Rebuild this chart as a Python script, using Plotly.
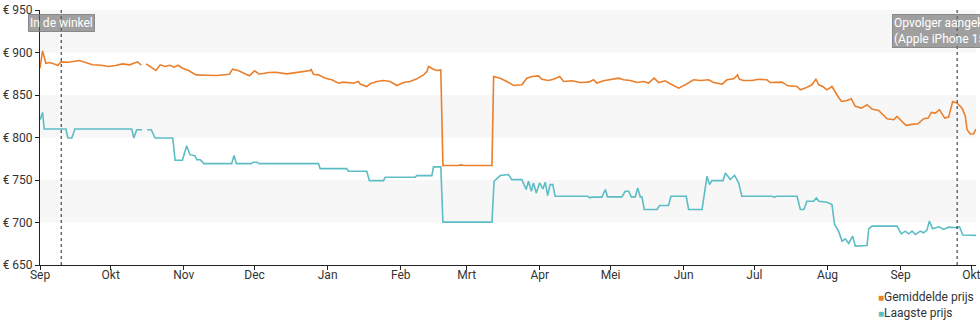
import pandas as pd
import plotly.graph_objects as go

# Day offsets are counted from the first day of the price history
START = pd.Timestamp("2022-09-01")

avg_days = [0, 1.1, 2.5, 4, 6, 7.5, 8.9, 12, 16.7, 19, 22.3, 26, 29, 32, 35, 38, 41.4, 43,
            44,
            45, 47, 49.2, 51, 53, 55, 57, 58.5, 60.5, 63, 66.2, 70, 75, 80.3, 81.7, 84, 88.8,
            91, 93, 97, 100, 104.7, 108.8, 111.7, 114.6, 114.9, 116, 118.1, 121, 123.8,
            126.6, 128.7, 130.8, 133, 135.1, 135.8, 138.6, 140, 142.9, 145.7, 148.5, 151.3,
            154.2, 157, 159.8, 162.7, 164.1, 164.8, 166.9, 168.3, 170, 170.9, 177.5, 178.5,
            180, 191.7, 192.4, 195.2, 198, 200.9, 204.4, 206.5, 208.6, 211.5, 212.9, 215.7,
            217.8, 220.4, 222.1, 225.6, 229.1, 232.7, 234.8, 236.2, 239, 241.9, 245.4, 247.5,
            250.4, 253.2, 256, 258.1, 260.5, 262.4, 265.2, 267.3, 270.9, 273.7, 277.2, 280.1,
            283.6, 285.7, 289.3, 291.4, 294.2, 295.9, 296.6, 298.4, 301.9, 304.8, 308.3,
            309.7, 314.7, 317.2, 321.1, 322.5, 324.6, 327.4, 329.1, 330.3, 332, 333.8, 335.9,
            338, 339.9, 342.3, 344.1, 345.8, 348.4, 350.8, 352.9, 355.7, 359.3, 362.1, 363.5,
            364.9, 367.3, 369.9, 372.4, 374.8, 376.7, 378.1, 379.8, 381.5, 383.7, 385.4,
            387.1, 389, 391.1, 392.5, 393.2, 394.6, 396, 397]
avg_price = [881.5, 901.9, 887.4, 888.2, 886.6, 884.7, 889.0, 888.6, 890.5, 888.2, 885.5,
             885.0, 883.5, 884.7, 886.6, 885.5, 889.0, 885.0,
             None,
             886.6, 882.7, 878.8, 885.5, 883.5, 885.0, 882.7, 885.0, 881.5, 878.8, 873.7,
             873.3, 872.9, 874.5, 880.4, 878.8, 872.6, 878.4, 874.5, 876.5, 876.8, 874.9,
             876.8, 877.6, 878.8, 880.4, 874.5, 873.7, 869.8, 867.9, 863.9, 865.1, 864.7,
             863.9, 865.9, 862.8, 860.0, 863.2, 865.9, 867.1, 865.9, 861.2, 864.7, 865.9,
             869.0, 873.7, 877.6, 883.5, 880.4, 878.8, 879.6, 767.0, 767.0, 767.8, 767.0,
             767.0, 871.8, 869.8, 865.9, 861.2, 862.0, 869.8, 871.8, 872.5, 868.6, 867.1,
             868.6, 871.8, 865.9, 866.7, 864.7, 865.1, 867.9, 864.0, 866.7, 867.9, 869.8,
             867.9, 867.1, 864.7, 865.9, 864.0, 869.8, 864.7, 866.7, 863.2, 858.1, 862.0,
             867.9, 867.1, 867.9, 864.7, 862.8, 867.9, 869.0, 873.7, 868.6, 867.1, 867.1,
             868.6, 867.9, 864.7, 865.1, 860.8, 860.0, 856.1, 858.1, 862.0, 868.6, 862.0,
             860.0, 856.1, 860.0, 850.3, 842.4, 843.6, 845.6, 836.6, 834.6, 838.5, 833.4,
             831.9, 822.1, 820.9, 824.8, 820.9, 814.3, 815.4, 816.2, 822.1, 822.8, 829.5,
             828.7, 832.7, 822.8, 824.0, 842.4, 840.5, 834.6, 824.8, 809.2, 804.1, 804.5,
             809.9]

low_days = [0, 1.1, 1.8, 11, 11.8, 13.5, 14.8, 38.9, 39.8, 41, 43.3,
            44,
            45.5, 47.2, 48.8, 56.3, 57.3, 60.4, 62.2, 63.6, 65.7, 66.5, 68, 69.5, 81.3, 82.3,
            83.3, 89.5, 90.5, 92, 93, 118.1, 118.8, 130.1, 130.8, 138.6, 139.7, 145.7, 146.4,
            159.1, 159.8, 166.2, 166.9, 170, 170.9, 191.7, 192.6, 193.8, 195.2, 198.7, 200.1,
            204.4, 206.2, 207.2, 208.4, 209.3, 210.5, 211.9, 213.3, 214.3, 215.3, 216.4,
            217.5, 218.5, 232.3, 233.1, 234.1, 238.3, 239.8, 240.7, 246.8, 248.2, 249.7,
            250.8, 252.5, 253.5, 254.6, 255.3, 256.3, 261.7, 262.8, 266.6, 267.6, 274.1,
            275.1, 280.8, 282.9, 284, 285, 289.7, 290.7, 292.8, 294.6, 296.3, 297.7, 310.5,
            311.5, 312.5, 321.1, 322.5, 324, 325.3, 328.2, 329.3, 330.3, 333.8, 335.9, 337,
            338.7, 340.2, 341.6, 343, 344.7, 345.8, 350.8, 351.5, 352.9, 363.5, 365.3, 367,
            368.4, 369.9, 371.3, 373.4, 374.8, 376.2, 377.2, 378.6, 381.2, 383.3, 385.4, 389,
            390, 391.4, 397]
low_price = [820.9, 829.5, 810.0, 810.0, 799.4, 799.4, 810.0, 810.0, 799.4, 809.2, 809.2,
             None,
             809.2, 809.2, 799.4, 799.4, 773.2, 773.2, 790.4, 779.8, 778.6, 773.9, 773.9,
             769.3, 769.3, 779.0, 769.3, 769.3, 770.8, 770.8, 769.3, 769.3, 763.4, 763.4,
             760.3, 760.3, 749.3, 749.3, 753.2, 753.2, 755.2, 755.2, 765.4, 765.4, 700.4,
             700.4, 748.5, 751.3, 755.2, 756.4, 750.5, 750.5, 738.8, 748.5, 736.8, 746.6,
             734.8, 746.6, 739.5, 747.4, 731.7, 744.6, 744.6, 730.9, 730.9, 729.0, 729.8,
             729.8, 738.8, 730.2, 730.2, 736.8, 736.8, 730.2, 730.2, 740.7, 730.2, 730.2,
             715.3, 715.3, 720.0, 720.0, 730.9, 730.9, 715.3, 715.3, 754.4, 744.6, 749.3,
             749.3, 758.3, 750.5, 755.6, 746.6, 730.9, 730.9, 729.8, 730.9, 730.9, 715.3,
             715.3, 725.0, 725.0, 729.0, 725.0, 723.9, 721.2, 697.7, 689.8, 678.1, 680.8,
             675.4, 684.0, 672.3, 673.0, 692.6, 695.7, 695.7, 686.7, 689.8, 686.7, 689.8,
             685.9, 689.8, 687.9, 691.0, 701.6, 692.6, 695.0, 691.8, 694.5, 693.8, 695.0,
             685.2, 684.8]

month_ticks = ["2022-09-01", "2022-10-01", "2022-11-01", "2022-12-01", "2023-01-01",
               "2023-02-01", "2023-03-01", "2023-04-01", "2023-05-01", "2023-06-01",
               "2023-07-01", "2023-08-01", "2023-09-01", "2023-10-01"]
month_labels = ["Sep", "Okt", "Nov", "Dec", "Jan", "Feb", "Mrt", "Apr", "Mei", "Jun",
                "Jul", "Aug", "Sep", "Okt"]
price_ticks = [650, 700, 750, 800, 850, 900, 950]
price_labels = ["€ 650", "€ 700", "€ 750", "€ 800", "€ 850", "€ 900", "€ 950"]

event_dates = ["2022-09-10", "2023-09-25"]
event_labels = ["In de winkel", "Opvolger aangekondigd<br>(Apple iPhone 15)"]

series_names = ["Gemiddelde prijs", "Laagste prijs"]
series_colors = ["#ea7f2c", "#5cbdc4"]

shaded_bands = [(900, 950), (800, 850), (700, 750)]

X_RANGE = ["2022-09-01", "2023-10-03"]
FONT = "Roboto, 'Open Sans', sans-serif"


def to_dates(days):
    return [START + pd.to_timedelta(d, unit="D") for d in days]


fig = go.Figure()
for days, prices, name, color in [(avg_days, avg_price, series_names[0], series_colors[0]),
                                  (low_days, low_price, series_names[1], series_colors[1])]:
    fig.add_trace(go.Scatter(
        x=to_dates(days), y=prices, mode="lines", name=name,
        line=dict(color=color, width=1.6), connectgaps=False, showlegend=False,
    ))

# alternating horizontal bands behind the lines
for lo, hi in shaded_bands:
    fig.add_shape(type="rect", xref="paper", yref="y", x0=0, x1=1, y0=lo, y1=hi,
                  fillcolor="#f7f7f7", line=dict(width=0), layer="below")

# event markers: dotted vertical line plus a grey label at the top
for d, label in zip(event_dates, event_labels):
    fig.add_shape(type="line", xref="x", yref="paper", x0=d, x1=d, y0=0, y1=1,
                  line=dict(color="#222222", width=1, dash="dot"))
    fig.add_annotation(x=d, y=1, xref="x", yref="paper", xanchor="center", yanchor="top",
                       yshift=-4, text=label, showarrow=False, align="left",
                       font=dict(family=FONT, size=12, color="#ffffff"),
                       bgcolor="rgba(105,105,105,0.62)", bordercolor="rgba(120,120,120,0.8)",
                       borderwidth=1, borderpad=1)

# legend with small coloured squares
legend_text = "<br>".join(
    f"<span style='color:{c};font-size:10px'>■</span>{n}"
    for n, c in zip(series_names, series_colors))
fig.add_annotation(x=1, y=-0.092, xref="paper", yref="paper", xanchor="right",
                   yanchor="top", text=legend_text, showarrow=False, align="left",
                   font=dict(family=FONT, size=12, color="#333333"))

fig.update_layout(
    width=980, height=325,
    margin=dict(l=40, r=4, t=10, b=60),
    paper_bgcolor="#ffffff", plot_bgcolor="#ffffff",
    font=dict(family=FONT, size=12, color="#333333"),
    showlegend=False,
)
fig.update_xaxes(
    range=X_RANGE, tickmode="array", tickvals=month_ticks, ticktext=month_labels,
    showgrid=False, zeroline=False, showline=True, linecolor="#222222", linewidth=1,
    ticks="outside", ticklen=4, tickcolor="#222222", ticklabeloverflow="allow",
    ticklabelstandoff=-5, automargin=False,
    tickfont=dict(family=FONT, size=12, color="#333333"),
)
fig.update_yaxes(
    range=[650, 950], tickmode="array", tickvals=price_ticks, ticktext=price_labels,
    showgrid=False, zeroline=False, showline=True, linecolor="#222222", linewidth=1,
    ticks="outside", ticklen=4, tickcolor="#222222", automargin=False,
    tickfont=dict(family=FONT, size=12, color="#333333"),
)

fig.write_html("out.html")
